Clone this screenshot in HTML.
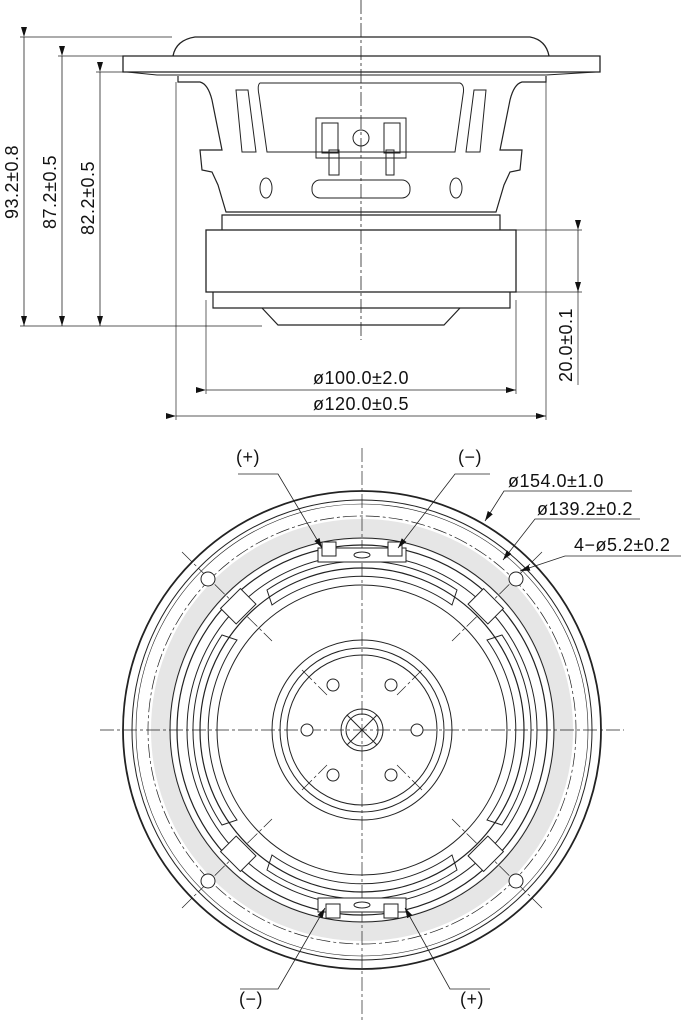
<!DOCTYPE html>
<html><head><style>
html,body{margin:0;padding:0;background:#fff}
svg{display:block}
text{font-family:"Liberation Sans",sans-serif;font-size:18px;letter-spacing:0.5px;fill:#111}
</style></head><body>
<svg width="683" height="1024" viewBox="0 0 683 1024" xmlns="http://www.w3.org/2000/svg">
<defs>
<marker id="a" markerWidth="10" markerHeight="6" refX="10" refY="3" orient="auto" markerUnits="userSpaceOnUse"><path d="M0,0 L10,3 L0,6z" fill="#111"/></marker>
</defs>
<g fill="none" stroke="#222" stroke-width="1">
<!-- TOP VIEW -->
<line x1="361" y1="0" x2="361" y2="340" stroke-dasharray="14,3,3,3" stroke-width="0.8"/>
<path d="M123,56 H600 V72 H123 Z" stroke-width="1.3"/>
<path d="M173,56 Q176,40 195,37 H530 Q546,40 549,56" stroke-width="1.3"/>
<path d="M127,72 L157,75 H546 L596,72"/>
<path d="M178,76 V82 H200 Q208,84 212,100 L222,150 H200 L202,170 L212,172 L218,185 L226,212 H496 L504,185 L510,172 L520,170 L522,150 H500 L510,100 Q514,84 522,82 H546 V76" stroke-width="1.2"/>
<path d="M260,83 H460 Q465,85 463,95 L455,152 H267 L259,95 Q257,85 260,83Z"/>
<path d="M236,90 H248 L256,152 H242Z M474,90 H486 L480,152 H466Z"/>
<rect x="316" y="118" width="90" height="40"/>
<rect x="322" y="123" width="16" height="30"/><rect x="384" y="123" width="16" height="30"/>
<circle cx="361" cy="138" r="8"/>
<rect x="329" y="150" width="10" height="25"/><rect x="386" y="150" width="8" height="25"/>
<rect x="312" y="180" width="98" height="18" rx="8"/>
<ellipse cx="266" cy="188" rx="6" ry="10"/><ellipse cx="456" cy="188" rx="6" ry="10"/>
<path d="M222,230 V215 H500 V230" stroke-width="1.2"/>
<rect x="206" y="230" width="310" height="62" stroke-width="1.3"/>
<path d="M213,292 V308 H510 V292" stroke-width="1.2"/>
<path d="M262,308 L278,325 H444 L460,308" stroke-width="1.2"/>
<!-- dims left -->
<line x1="20" y1="37" x2="172" y2="37" stroke-width="0.7"/>
<line x1="58" y1="56" x2="123" y2="56" stroke-width="0.7"/>
<line x1="96" y1="72" x2="157" y2="72" stroke-width="0.7"/>
<line x1="20" y1="326" x2="262" y2="326" stroke-width="0.7"/>
<line x1="24" y1="37" x2="24" y2="326" stroke-width="0.8" marker-start="url(#a)" marker-end="url(#a)"/>
<line x1="62" y1="56" x2="62" y2="326" stroke-width="0.8" marker-start="url(#a)" marker-end="url(#a)"/>
<line x1="100" y1="72" x2="100" y2="326" stroke-width="0.8" marker-start="url(#a)" marker-end="url(#a)"/>
<!-- dims right -->
<line x1="516" y1="230" x2="582" y2="230" stroke-width="0.7"/>
<line x1="516" y1="292" x2="582" y2="292" stroke-width="0.7"/>
<line x1="578" y1="230" x2="578" y2="292" stroke-width="0.8" marker-start="url(#a)" marker-end="url(#a)"/>
<line x1="578" y1="292" x2="578" y2="385" stroke-width="0.7"/>
<!-- dims bottom -->
<line x1="176" y1="82" x2="176" y2="420" stroke-width="0.7"/>
<line x1="546" y1="82" x2="546" y2="420" stroke-width="0.7"/>
<line x1="206" y1="300" x2="206" y2="394" stroke-width="0.7"/>
<line x1="516" y1="300" x2="516" y2="394" stroke-width="0.7"/>
<line x1="206" y1="390" x2="516" y2="390" stroke-width="0.8" marker-start="url(#a)" marker-end="url(#a)"/>
<line x1="176" y1="416" x2="546" y2="416" stroke-width="0.8" marker-start="url(#a)" marker-end="url(#a)"/>

<!-- BOTTOM VIEW -->
<g transform="translate(362,730)">
<circle r="201" fill="none" stroke="#e6e6e6" stroke-width="20"/>
<circle r="239" stroke-width="1.8"/>
<circle r="230"/>
<circle r="226" stroke-width="0.6"/>
<circle r="214" stroke-dasharray="14,3,3,3" stroke-width="0.7"/>
<circle r="192"/>
<circle r="185" stroke-width="1.2"/>
<circle r="175"/>
<circle r="162" stroke-width="1.2"/>
<circle r="145"/>
<circle r="90"/><circle r="82"/><circle r="75"/>
<circle r="21"/><circle r="16"/>
<line x1="-15" y1="-15" x2="15" y2="15"/><line x1="-15" y1="15" x2="15" y2="-15"/>
<line x1="-262" y1="0" x2="262" y2="0" stroke-dasharray="14,3,3,3" stroke-width="0.7"/>
<line x1="0" y1="-282" x2="0" y2="290" stroke-dasharray="14,3,3,3" stroke-width="0.7"/>
<g stroke-dasharray="14,3,3,3" stroke-width="0.7">
<line x1="-180" y1="-178" x2="-90" y2="-89"/><line x1="180" y1="-178" x2="90" y2="-89"/>
<line x1="-180" y1="178" x2="-90" y2="89"/><line x1="180" y1="178" x2="90" y2="89"/>
<line x1="-60" y1="-60" x2="-35" y2="-35"/><line x1="60" y1="-60" x2="35" y2="-35"/>
<line x1="-60" y1="60" x2="-35" y2="35"/><line x1="60" y1="60" x2="35" y2="35"/>
</g>
<g fill="#fff">
<circle cx="-154" cy="-151" r="7"/><circle cx="154" cy="-151" r="7"/>
<circle cx="-154" cy="151" r="7"/><circle cx="154" cy="151" r="7"/>
<circle cx="-29" cy="-45" r="6"/><circle cx="29" cy="-45" r="6"/>
<circle cx="-29" cy="45" r="6"/><circle cx="29" cy="45" r="6"/>
<circle cx="-55" cy="0" r="6"/><circle cx="55" cy="0" r="6"/>
<g transform="rotate(45)"><rect x="-14" y="-186" width="28" height="22"/></g>
<g transform="rotate(-45)"><rect x="-14" y="-186" width="28" height="22"/></g>
<g transform="rotate(135)"><rect x="-14" y="-186" width="28" height="22"/></g>
<g transform="rotate(-135)"><rect x="-14" y="-186" width="28" height="22"/></g>
</g>
<path d="M-95,-140 A170,170 0 0 1 95,-140 L90,-125 A155,155 0 0 0 -90,-125Z"/>
<path d="M-95,140 A170,170 0 0 0 95,140 L90,125 A155,155 0 0 1 -90,125Z"/>
<path d="M-140,-95 A170,170 0 0 0 -140,95 L-125,90 A155,155 0 0 1 -125,-90Z"/>
<path d="M140,-95 A170,170 0 0 1 140,95 L125,90 A155,155 0 0 0 125,-90Z"/>
<rect x="-44" y="-182" width="88" height="14" fill="#fff"/>
<rect x="-40" y="-188" width="14" height="14" fill="#fff"/><rect x="26" y="-188" width="14" height="14" fill="#fff"/>
<ellipse cx="0" cy="-175" rx="8" ry="3"/>
<rect x="-44" y="168" width="88" height="14" fill="#fff"/>
<rect x="-36" y="174" width="14" height="14" fill="#fff"/><rect x="22" y="174" width="14" height="14" fill="#fff"/>
<ellipse cx="0" cy="175" rx="8" ry="3"/>
</g>
<!-- leaders -->
<g stroke-width="0.8">
<path d="M238,474 H278 L322,548" marker-end="url(#a)"/>
<path d="M490,474 H455 L398,548" marker-end="url(#a)"/>
<path d="M240,989 H278 L325,908" marker-end="url(#a)"/>
<path d="M490,989 H450 L405,908" marker-end="url(#a)"/>
<path d="M632,491 H504 L485,521" marker-end="url(#a)"/>
<path d="M640,519 H535 L503,560" marker-end="url(#a)"/>
<path d="M681,556 H565 L520,571" marker-end="url(#a)"/>
</g>
</g>
<!-- texts -->
<text transform="translate(18,182) rotate(-90)" text-anchor="middle">93.2±0.8</text>
<text transform="translate(56,192) rotate(-90)" text-anchor="middle">87.2±0.5</text>
<text transform="translate(94,198) rotate(-90)" text-anchor="middle">82.2±0.5</text>
<text transform="translate(572,345) rotate(-90)" text-anchor="middle">20.0±0.1</text>
<text x="361" y="384" text-anchor="middle">ø100.0±2.0</text>
<text x="361" y="410" text-anchor="middle">ø120.0±0.5</text>
<text x="248" y="463" text-anchor="middle" font-size="14">(+)</text>
<text x="470" y="463" text-anchor="middle" font-size="14">(−)</text>
<text x="508" y="487">ø154.0±1.0</text>
<text x="537" y="515">ø139.2±0.2</text>
<text x="574" y="551">4−ø5.2±0.2</text>
<text x="251" y="1005" text-anchor="middle" font-size="14">(−)</text>
<text x="472" y="1005" text-anchor="middle" font-size="14">(+)</text>
</svg>
</body></html>
